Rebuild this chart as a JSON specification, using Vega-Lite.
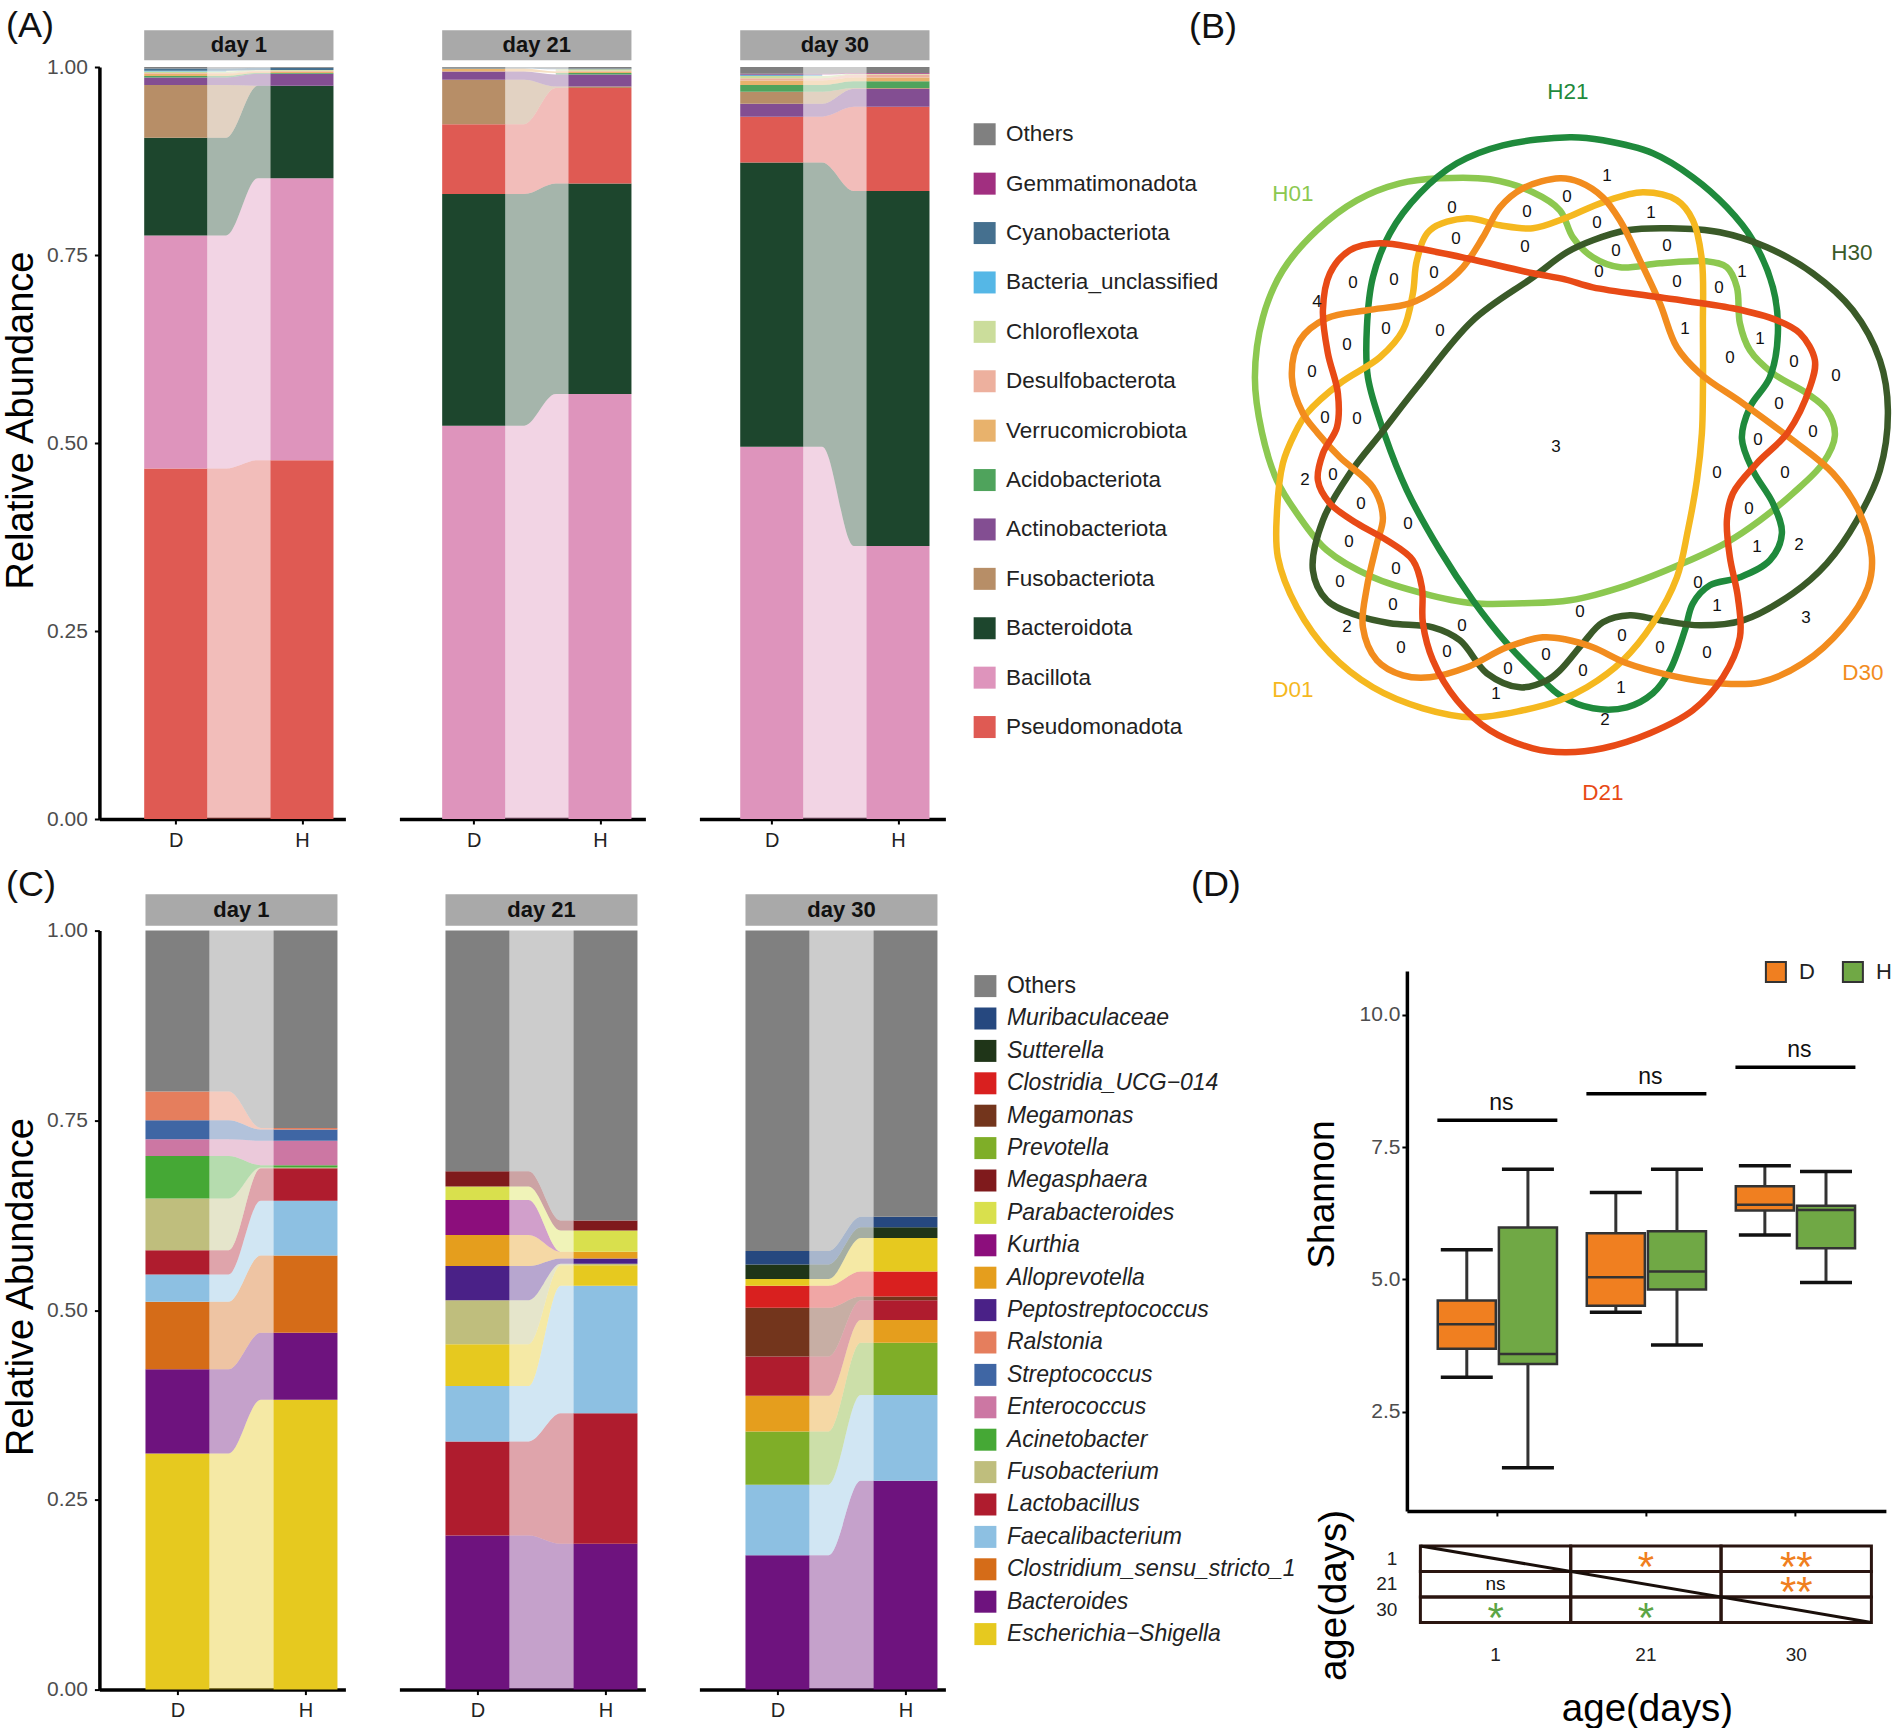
{"$schema":"https://vega.github.io/schema/vega-lite/v6.json","background":"white","padding":{"left":2.4,"top":8,"right":0,"bottom":0},"config":{"font":"Liberation Sans","view":{"stroke":null},"axis":{"grid":false,"labelFont":"Liberation Sans","titleFont":"Liberation Sans","domainColor":"#000000","domainWidth":3.5,"tickColor":"#000000","tickWidth":2,"tickSize":5,"titleFontWeight":"normal","titleColor":"#000000"},"legend":{"labelFont":"Liberation Sans"}},
"datasets":{
"xpos":[{"group":"D","x0":0,"x1":1,"flow":[1,1.3]},{"group":"H","x0":2,"x1":3,"flow":[1.8,2]}],
"phylum":[
{"day":"day 1","group":"D","taxon":"Pseudomonadota","value":0.466},{"day":"day 1","group":"D","taxon":"Bacillota","value":0.31},{"day":"day 1","group":"D","taxon":"Bacteroidota","value":0.13},{"day":"day 1","group":"D","taxon":"Fusobacteriota","value":0.07},{"day":"day 1","group":"D","taxon":"Actinobacteriota","value":0.01},{"day":"day 1","group":"D","taxon":"Acidobacteriota","value":0.002},{"day":"day 1","group":"D","taxon":"Verrucomicrobiota","value":0.003},{"day":"day 1","group":"D","taxon":"Desulfobacterota","value":0.001},{"day":"day 1","group":"D","taxon":"Chloroflexota","value":0.002},{"day":"day 1","group":"D","taxon":"Bacteria_unclassified","value":0.001},{"day":"day 1","group":"D","taxon":"Cyanobacteriota","value":0.003},{"day":"day 1","group":"D","taxon":"Others","value":0.002},
{"day":"day 1","group":"H","taxon":"Pseudomonadota","value":0.477},{"day":"day 1","group":"H","taxon":"Bacillota","value":0.375},{"day":"day 1","group":"H","taxon":"Bacteroidota","value":0.123},{"day":"day 1","group":"H","taxon":"Fusobacteriota","value":0.0},{"day":"day 1","group":"H","taxon":"Actinobacteriota","value":0.016},{"day":"day 1","group":"H","taxon":"Acidobacteriota","value":0.001},{"day":"day 1","group":"H","taxon":"Verrucomicrobiota","value":0.002},{"day":"day 1","group":"H","taxon":"Desulfobacterota","value":0.001},{"day":"day 1","group":"H","taxon":"Chloroflexota","value":0.001},{"day":"day 1","group":"H","taxon":"Cyanobacteriota","value":0.003},{"day":"day 1","group":"H","taxon":"Others","value":0.001},
{"day":"day 21","group":"D","taxon":"Bacillota","value":0.523},{"day":"day 21","group":"D","taxon":"Bacteroidota","value":0.308},{"day":"day 21","group":"D","taxon":"Pseudomonadota","value":0.093},{"day":"day 21","group":"D","taxon":"Fusobacteriota","value":0.059},{"day":"day 21","group":"D","taxon":"Actinobacteriota","value":0.011},{"day":"day 21","group":"D","taxon":"Verrucomicrobiota","value":0.004},{"day":"day 21","group":"D","taxon":"Cyanobacteriota","value":0.001},{"day":"day 21","group":"D","taxon":"Others","value":0.001},
{"day":"day 21","group":"H","taxon":"Bacillota","value":0.565},{"day":"day 21","group":"H","taxon":"Bacteroidota","value":0.28},{"day":"day 21","group":"H","taxon":"Pseudomonadota","value":0.127},{"day":"day 21","group":"H","taxon":"Fusobacteriota","value":0.002},{"day":"day 21","group":"H","taxon":"Actinobacteriota","value":0.016},{"day":"day 21","group":"H","taxon":"Acidobacteriota","value":0.002},{"day":"day 21","group":"H","taxon":"Verrucomicrobiota","value":0.002},{"day":"day 21","group":"H","taxon":"Desulfobacterota","value":0.001},{"day":"day 21","group":"H","taxon":"Chloroflexota","value":0.002},{"day":"day 21","group":"H","taxon":"Cyanobacteriota","value":0.001},{"day":"day 21","group":"H","taxon":"Others","value":0.002},
{"day":"day 30","group":"D","taxon":"Bacillota","value":0.495},{"day":"day 30","group":"D","taxon":"Bacteroidota","value":0.378},{"day":"day 30","group":"D","taxon":"Pseudomonadota","value":0.061},{"day":"day 30","group":"D","taxon":"Actinobacteriota","value":0.017},{"day":"day 30","group":"D","taxon":"Fusobacteriota","value":0.016},{"day":"day 30","group":"D","taxon":"Acidobacteriota","value":0.009},{"day":"day 30","group":"D","taxon":"Verrucomicrobiota","value":0.006},{"day":"day 30","group":"D","taxon":"Desulfobacterota","value":0.003},{"day":"day 30","group":"D","taxon":"Chloroflexota","value":0.003},{"day":"day 30","group":"D","taxon":"Bacteria_unclassified","value":0.001},{"day":"day 30","group":"D","taxon":"Cyanobacteriota","value":0.001},{"day":"day 30","group":"D","taxon":"Gemmatimonadota","value":0.001},{"day":"day 30","group":"D","taxon":"Others","value":0.009},
{"day":"day 30","group":"H","taxon":"Bacillota","value":0.363},{"day":"day 30","group":"H","taxon":"Bacteroidota","value":0.472},{"day":"day 30","group":"H","taxon":"Pseudomonadota","value":0.112},{"day":"day 30","group":"H","taxon":"Actinobacteriota","value":0.024},{"day":"day 30","group":"H","taxon":"Fusobacteriota","value":0.001},{"day":"day 30","group":"H","taxon":"Acidobacteriota","value":0.009},{"day":"day 30","group":"H","taxon":"Verrucomicrobiota","value":0.005},{"day":"day 30","group":"H","taxon":"Desulfobacterota","value":0.004},{"day":"day 30","group":"H","taxon":"Chloroflexota","value":0.001},{"day":"day 30","group":"H","taxon":"Gemmatimonadota","value":0.001},{"day":"day 30","group":"H","taxon":"Others","value":0.008}],
"genus":[
{"day":"day 1","group":"D","taxon":"Escherichia−Shigella","value":0.311},{"day":"day 1","group":"D","taxon":"Bacteroides","value":0.111},{"day":"day 1","group":"D","taxon":"Clostridium_sensu_stricto_1","value":0.089},{"day":"day 1","group":"D","taxon":"Faecalibacterium","value":0.036},{"day":"day 1","group":"D","taxon":"Lactobacillus","value":0.032},{"day":"day 1","group":"D","taxon":"Fusobacterium","value":0.068},{"day":"day 1","group":"D","taxon":"Acinetobacter","value":0.056},{"day":"day 1","group":"D","taxon":"Enterococcus","value":0.022},{"day":"day 1","group":"D","taxon":"Streptococcus","value":0.025},{"day":"day 1","group":"D","taxon":"Ralstonia","value":0.038},{"day":"day 1","group":"D","taxon":"Others","value":0.212},
{"day":"day 1","group":"H","taxon":"Escherichia−Shigella","value":0.382},{"day":"day 1","group":"H","taxon":"Bacteroides","value":0.088},{"day":"day 1","group":"H","taxon":"Clostridium_sensu_stricto_1","value":0.102},{"day":"day 1","group":"H","taxon":"Faecalibacterium","value":0.072},{"day":"day 1","group":"H","taxon":"Lactobacillus","value":0.043},{"day":"day 1","group":"H","taxon":"Fusobacterium","value":0.001},{"day":"day 1","group":"H","taxon":"Acinetobacter","value":0.003},{"day":"day 1","group":"H","taxon":"Enterococcus","value":0.032},{"day":"day 1","group":"H","taxon":"Streptococcus","value":0.015},{"day":"day 1","group":"H","taxon":"Ralstonia","value":0.002},{"day":"day 1","group":"H","taxon":"Others","value":0.26},
{"day":"day 21","group":"D","taxon":"Bacteroides","value":0.203},{"day":"day 21","group":"D","taxon":"Lactobacillus","value":0.124},{"day":"day 21","group":"D","taxon":"Faecalibacterium","value":0.073},{"day":"day 21","group":"D","taxon":"Escherichia−Shigella","value":0.055},{"day":"day 21","group":"D","taxon":"Fusobacterium","value":0.058},{"day":"day 21","group":"D","taxon":"Peptostreptococcus","value":0.045},{"day":"day 21","group":"D","taxon":"Alloprevotella","value":0.041},{"day":"day 21","group":"D","taxon":"Kurthia","value":0.046},{"day":"day 21","group":"D","taxon":"Parabacteroides","value":0.018},{"day":"day 21","group":"D","taxon":"Megasphaera","value":0.02},{"day":"day 21","group":"D","taxon":"Others","value":0.317},
{"day":"day 21","group":"H","taxon":"Bacteroides","value":0.192},{"day":"day 21","group":"H","taxon":"Lactobacillus","value":0.172},{"day":"day 21","group":"H","taxon":"Faecalibacterium","value":0.168},{"day":"day 21","group":"H","taxon":"Escherichia−Shigella","value":0.027},{"day":"day 21","group":"H","taxon":"Fusobacterium","value":0.002},{"day":"day 21","group":"H","taxon":"Peptostreptococcus","value":0.007},{"day":"day 21","group":"H","taxon":"Alloprevotella","value":0.009},{"day":"day 21","group":"H","taxon":"Kurthia","value":0.0},{"day":"day 21","group":"H","taxon":"Parabacteroides","value":0.028},{"day":"day 21","group":"H","taxon":"Megasphaera","value":0.013},{"day":"day 21","group":"H","taxon":"Others","value":0.382},
{"day":"day 30","group":"D","taxon":"Bacteroides","value":0.177},{"day":"day 30","group":"D","taxon":"Faecalibacterium","value":0.093},{"day":"day 30","group":"D","taxon":"Prevotella","value":0.07},{"day":"day 30","group":"D","taxon":"Alloprevotella","value":0.047},{"day":"day 30","group":"D","taxon":"Lactobacillus","value":0.052},{"day":"day 30","group":"D","taxon":"Megamonas","value":0.064},{"day":"day 30","group":"D","taxon":"Clostridia_UCG−014","value":0.029},{"day":"day 30","group":"D","taxon":"Escherichia−Shigella","value":0.009},{"day":"day 30","group":"D","taxon":"Sutterella","value":0.019},{"day":"day 30","group":"D","taxon":"Muribaculaceae","value":0.018},{"day":"day 30","group":"D","taxon":"Others","value":0.422},
{"day":"day 30","group":"H","taxon":"Bacteroides","value":0.275},{"day":"day 30","group":"H","taxon":"Faecalibacterium","value":0.113},{"day":"day 30","group":"H","taxon":"Prevotella","value":0.069},{"day":"day 30","group":"H","taxon":"Alloprevotella","value":0.03},{"day":"day 30","group":"H","taxon":"Lactobacillus","value":0.026},{"day":"day 30","group":"H","taxon":"Megamonas","value":0.005},{"day":"day 30","group":"H","taxon":"Clostridia_UCG−014","value":0.033},{"day":"day 30","group":"H","taxon":"Escherichia−Shigella","value":0.044},{"day":"day 30","group":"H","taxon":"Sutterella","value":0.014},{"day":"day 30","group":"H","taxon":"Muribaculaceae","value":0.014},{"day":"day 30","group":"H","taxon":"Others","value":0.377}],
"venn":[
{"set":"H01","x":1440,"y":178},{"set":"H01","x":1490,"y":179},{"set":"H01","x":1533,"y":192},{"set":"H01","x":1560,"y":210},{"set":"H01","x":1573,"y":237},{"set":"H01","x":1593,"y":257},{"set":"H01","x":1620,"y":267},{"set":"H01","x":1660,"y":263},{"set":"H01","x":1707,"y":261},{"set":"H01","x":1727,"y":267},{"set":"H01","x":1737,"y":287},{"set":"H01","x":1740,"y":323},{"set":"H01","x":1750,"y":350},{"set":"H01","x":1773,"y":373},{"set":"H01","x":1807,"y":393},{"set":"H01","x":1827,"y":410},{"set":"H01","x":1835,"y":435},{"set":"H01","x":1823,"y":463},{"set":"H01","x":1793,"y":493},{"set":"H01","x":1760,"y":520},{"set":"H01","x":1727,"y":542},{"set":"H01","x":1683,"y":563},{"set":"H01","x":1627,"y":585},{"set":"H01","x":1570,"y":600},{"set":"H01","x":1523,"y":603},{"set":"H01","x":1473,"y":603},{"set":"H01","x":1423,"y":593},{"set":"H01","x":1373,"y":577},{"set":"H01","x":1327,"y":550},{"set":"H01","x":1297,"y":513},{"set":"H01","x":1277,"y":480},{"set":"H01","x":1262,"y":432},{"set":"H01","x":1255,"y":377},{"set":"H01","x":1263,"y":317},{"set":"H01","x":1283,"y":270},{"set":"H01","x":1317,"y":230},{"set":"H01","x":1357,"y":200},{"set":"H01","x":1400,"y":183},
{"set":"H21","x":1570,"y":137},{"set":"H21","x":1603,"y":140},{"set":"H21","x":1653,"y":153},{"set":"H21","x":1693,"y":177},{"set":"H21","x":1727,"y":207},{"set":"H21","x":1753,"y":240},{"set":"H21","x":1773,"y":287},{"set":"H21","x":1778,"y":333},{"set":"H21","x":1770,"y":377},{"set":"H21","x":1750,"y":407},{"set":"H21","x":1742,"y":438},{"set":"H21","x":1753,"y":470},{"set":"H21","x":1773,"y":503},{"set":"H21","x":1782,"y":533},{"set":"H21","x":1770,"y":560},{"set":"H21","x":1740,"y":577},{"set":"H21","x":1710,"y":585},{"set":"H21","x":1693,"y":603},{"set":"H21","x":1685,"y":630},{"set":"H21","x":1670,"y":670},{"set":"H21","x":1653,"y":693},{"set":"H21","x":1627,"y":707},{"set":"H21","x":1593,"y":708},{"set":"H21","x":1560,"y":695},{"set":"H21","x":1540,"y":677},{"set":"H21","x":1507,"y":643},{"set":"H21","x":1473,"y":600},{"set":"H21","x":1440,"y":550},{"set":"H21","x":1407,"y":490},{"set":"H21","x":1385,"y":435},{"set":"H21","x":1368,"y":377},{"set":"H21","x":1367,"y":327},{"set":"H21","x":1373,"y":277},{"set":"H21","x":1390,"y":233},{"set":"H21","x":1420,"y":193},{"set":"H21","x":1457,"y":163},{"set":"H21","x":1503,"y":145},
{"set":"H30","x":1670,"y":228},{"set":"H30","x":1720,"y":232},{"set":"H30","x":1767,"y":247},{"set":"H30","x":1813,"y":273},{"set":"H30","x":1853,"y":310},{"set":"H30","x":1880,"y":360},{"set":"H30","x":1888,"y":410},{"set":"H30","x":1880,"y":470},{"set":"H30","x":1857,"y":520},{"set":"H30","x":1827,"y":563},{"set":"H30","x":1793,"y":593},{"set":"H30","x":1743,"y":620},{"set":"H30","x":1700,"y":625},{"set":"H30","x":1660,"y":620},{"set":"H30","x":1630,"y":615},{"set":"H30","x":1603,"y":622},{"set":"H30","x":1583,"y":643},{"set":"H30","x":1560,"y":670},{"set":"H30","x":1547,"y":680},{"set":"H30","x":1520,"y":687},{"set":"H30","x":1487,"y":673},{"set":"H30","x":1460,"y":640},{"set":"H30","x":1433,"y":627},{"set":"H30","x":1390,"y":623},{"set":"H30","x":1357,"y":615},{"set":"H30","x":1327,"y":600},{"set":"H30","x":1313,"y":570},{"set":"H30","x":1323,"y":520},{"set":"H30","x":1350,"y":473},{"set":"H30","x":1382,"y":432},{"set":"H30","x":1417,"y":387},{"set":"H30","x":1473,"y":320},{"set":"H30","x":1533,"y":277},{"set":"H30","x":1567,"y":252},{"set":"H30","x":1593,"y":240},{"set":"H30","x":1627,"y":230},
{"set":"D01","x":1643,"y":192},{"set":"D01","x":1677,"y":200},{"set":"D01","x":1693,"y":220},{"set":"D01","x":1702,"y":260},{"set":"D01","x":1703,"y":327},{"set":"D01","x":1703,"y":393},{"set":"D01","x":1702,"y":433},{"set":"D01","x":1697,"y":480},{"set":"D01","x":1688,"y":530},{"set":"D01","x":1677,"y":577},{"set":"D01","x":1653,"y":623},{"set":"D01","x":1623,"y":660},{"set":"D01","x":1587,"y":687},{"set":"D01","x":1560,"y":700},{"set":"D01","x":1523,"y":710},{"set":"D01","x":1473,"y":717},{"set":"D01","x":1423,"y":708},{"set":"D01","x":1373,"y":687},{"set":"D01","x":1330,"y":653},{"set":"D01","x":1297,"y":607},{"set":"D01","x":1278,"y":557},{"set":"D01","x":1277,"y":513},{"set":"D01","x":1283,"y":463},{"set":"D01","x":1295,"y":433},{"set":"D01","x":1307,"y":413},{"set":"D01","x":1340,"y":383},{"set":"D01","x":1380,"y":357},{"set":"D01","x":1403,"y":330},{"set":"D01","x":1413,"y":293},{"set":"D01","x":1417,"y":260},{"set":"D01","x":1430,"y":230},{"set":"D01","x":1467,"y":218},{"set":"D01","x":1500,"y":225},{"set":"D01","x":1533,"y":228},{"set":"D01","x":1565,"y":218},{"set":"D01","x":1603,"y":202},
{"set":"D30","x":1560,"y":178},{"set":"D30","x":1523,"y":188},{"set":"D30","x":1500,"y":207},{"set":"D30","x":1483,"y":237},{"set":"D30","x":1463,"y":267},{"set":"D30","x":1440,"y":287},{"set":"D30","x":1410,"y":303},{"set":"D30","x":1367,"y":310},{"set":"D30","x":1327,"y":318},{"set":"D30","x":1300,"y":340},{"set":"D30","x":1292,"y":377},{"set":"D30","x":1303,"y":413},{"set":"D30","x":1318,"y":433},{"set":"D30","x":1340,"y":457},{"set":"D30","x":1373,"y":487},{"set":"D30","x":1383,"y":517},{"set":"D30","x":1377,"y":543},{"set":"D30","x":1367,"y":587},{"set":"D30","x":1363,"y":627},{"set":"D30","x":1377,"y":660},{"set":"D30","x":1403,"y":675},{"set":"D30","x":1430,"y":677},{"set":"D30","x":1467,"y":667},{"set":"D30","x":1507,"y":647},{"set":"D30","x":1543,"y":637},{"set":"D30","x":1565,"y":639},{"set":"D30","x":1593,"y":647},{"set":"D30","x":1627,"y":663},{"set":"D30","x":1670,"y":675},{"set":"D30","x":1720,"y":683},{"set":"D30","x":1760,"y":682},{"set":"D30","x":1803,"y":663},{"set":"D30","x":1843,"y":627},{"set":"D30","x":1868,"y":587},{"set":"D30","x":1872,"y":557},{"set":"D30","x":1860,"y":513},{"set":"D30","x":1833,"y":473},{"set":"D30","x":1793,"y":440},{"set":"D30","x":1743,"y":403},{"set":"D30","x":1700,"y":373},{"set":"D30","x":1677,"y":347},{"set":"D30","x":1660,"y":303},{"set":"D30","x":1640,"y":260},{"set":"D30","x":1620,"y":220},{"set":"D30","x":1603,"y":197},{"set":"D30","x":1580,"y":182},
{"set":"D21","x":1565,"y":279},{"set":"D21","x":1533,"y":273},{"set":"D21","x":1467,"y":258},{"set":"D21","x":1417,"y":248},{"set":"D21","x":1380,"y":243},{"set":"D21","x":1350,"y":250},{"set":"D21","x":1330,"y":273},{"set":"D21","x":1323,"y":310},{"set":"D21","x":1328,"y":353},{"set":"D21","x":1338,"y":393},{"set":"D21","x":1337,"y":427},{"set":"D21","x":1323,"y":453},{"set":"D21","x":1318,"y":480},{"set":"D21","x":1330,"y":503},{"set":"D21","x":1357,"y":523},{"set":"D21","x":1387,"y":540},{"set":"D21","x":1413,"y":560},{"set":"D21","x":1422,"y":587},{"set":"D21","x":1423,"y":623},{"set":"D21","x":1433,"y":660},{"set":"D21","x":1457,"y":700},{"set":"D21","x":1490,"y":730},{"set":"D21","x":1533,"y":748},{"set":"D21","x":1565,"y":752},{"set":"D21","x":1603,"y":748},{"set":"D21","x":1650,"y":733},{"set":"D21","x":1693,"y":710},{"set":"D21","x":1723,"y":677},{"set":"D21","x":1740,"y":637},{"set":"D21","x":1738,"y":597},{"set":"D21","x":1730,"y":557},{"set":"D21","x":1727,"y":520},{"set":"D21","x":1733,"y":493},{"set":"D21","x":1757,"y":463},{"set":"D21","x":1788,"y":432},{"set":"D21","x":1810,"y":387},{"set":"D21","x":1815,"y":360},{"set":"D21","x":1800,"y":333},{"set":"D21","x":1777,"y":320},{"set":"D21","x":1733,"y":308},{"set":"D21","x":1660,"y":297},{"set":"D21","x":1593,"y":287}],
"venncounts":[{"n":"0","x":1452,"y":208},{"n":"0","x":1527,"y":212},{"n":"0","x":1456,"y":239},{"n":"0","x":1525,"y":247},{"n":"0","x":1434,"y":273},{"n":"0","x":1394,"y":280},{"n":"0","x":1353,"y":283},{"n":"4","x":1317,"y":302},{"n":"0","x":1386,"y":329},{"n":"0","x":1440,"y":331},{"n":"0","x":1347,"y":345},{"n":"0","x":1312,"y":372},{"n":"0","x":1325,"y":418},{"n":"0","x":1357,"y":419},{"n":"0","x":1567,"y":197},{"n":"1","x":1607,"y":176},{"n":"0","x":1597,"y":223},{"n":"1","x":1651,"y":213},{"n":"0","x":1667,"y":246},{"n":"0","x":1616,"y":251},{"n":"0","x":1599,"y":272},{"n":"0","x":1677,"y":282},{"n":"0","x":1719,"y":288},{"n":"1","x":1742,"y":272},{"n":"1","x":1685,"y":329},{"n":"1","x":1760,"y":339},{"n":"0","x":1730,"y":358},{"n":"0","x":1794,"y":362},{"n":"0","x":1836,"y":376},{"n":"0","x":1779,"y":404},{"n":"0","x":1813,"y":432},{"n":"0","x":1758,"y":440},{"n":"0","x":1717,"y":473},{"n":"0","x":1785,"y":473},{"n":"0","x":1749,"y":509},{"n":"1","x":1757,"y":547},{"n":"2","x":1799,"y":545},{"n":"0","x":1698,"y":583},{"n":"1","x":1717,"y":606},{"n":"3","x":1806,"y":618},{"n":"0","x":1580,"y":612},{"n":"0","x":1622,"y":636},{"n":"0","x":1660,"y":648},{"n":"0","x":1707,"y":653},{"n":"0","x":1583,"y":671},{"n":"1","x":1621,"y":688},{"n":"2","x":1605,"y":720},{"n":"3","x":1556,"y":447},{"n":"2","x":1305,"y":480},{"n":"0","x":1333,"y":475},{"n":"0","x":1361,"y":504},{"n":"0","x":1408,"y":524},{"n":"0","x":1349,"y":542},{"n":"0","x":1396,"y":569},{"n":"0","x":1340,"y":582},{"n":"0","x":1393,"y":605},{"n":"0","x":1462,"y":626},{"n":"2","x":1347,"y":627},{"n":"0","x":1401,"y":648},{"n":"0","x":1447,"y":652},{"n":"0","x":1546,"y":655},{"n":"0","x":1508,"y":669},{"n":"1","x":1496,"y":694}],
"vennnames":[{"set":"H21","x":1568,"y":92},{"set":"H01","x":1293,"y":194},{"set":"H30","x":1852,"y":253},{"set":"D01","x":1293,"y":690},{"set":"D30","x":1863,"y":673},{"set":"D21","x":1603,"y":793}],
"tags":[{"tag":"(B)","x":1189,"y":27},{"tag":"(D)","x":1191,"y":885}],
"shannon":[{"age":"1","group":"D","low":3.15,"q1":3.69,"med":4.15,"q3":4.6,"high":5.56},{"age":"1","group":"H","low":1.44,"q1":3.4,"med":3.59,"q3":5.98,"high":7.08},{"age":"21","group":"D","low":4.38,"q1":4.5,"med":5.04,"q3":5.87,"high":6.64},{"age":"21","group":"H","low":3.76,"q1":4.81,"med":5.15,"q3":5.91,"high":7.08},{"age":"30","group":"D","low":5.84,"q1":6.3,"med":6.41,"q3":6.76,"high":7.15},{"age":"30","group":"H","low":4.94,"q1":5.59,"med":6.31,"q3":6.39,"high":7.04}],
"sig":[{"age":"1","level":8.01,"label":"ns"},{"age":"21","level":8.51,"label":"ns"},{"age":"30","level":9.01,"label":"ns"}],
"pairs":[{"col":"1","row":"1"},{"col":"21","row":"1","label":"*","kind":"D"},{"col":"30","row":"1","label":"**","kind":"D"},{"col":"1","row":"21","label":"ns","kind":"ns"},{"col":"21","row":"21"},{"col":"30","row":"21","label":"**","kind":"D"},{"col":"1","row":"30","label":"*","kind":"H"},{"col":"21","row":"30","label":"*","kind":"H"},{"col":"30","row":"30"}],
"diag":[{"u":0,"v":1},{"u":1,"v":0}]
},
"spacing":-107.5,"resolve":{"scale":{"color":"independent"}},
"hconcat":[
{"columns":3,"bounds":"flush","spacing":{"row":111.6,"column":54},"resolve":{"scale":{"color":"independent"}},"concat":[
{"width":246,"height":752,"data":{"name":"phylum"},"transform":[{"filter":"datum.day=='day 1'"},{"stack":"value","groupby":["group"],"as":["y0","y1"]},{"lookup":"group","from":{"data":{"name":"xpos"},"key":"group","fields":["x0","x1","flow"]}}],
"layer":[
{"transform":[{"flatten":["flow"]}],"mark":{"type":"area","interpolate":"monotone","opacity":0.4,"orient":"vertical"},"encoding":{"x":{"field":"flow","type":"quantitative","axis":{"values":[0.5,2.5],"labelExpr":"datum.value<1?'D':'H'","title":null,"labelFontSize":20,"labelColor":"#222222","labelAngle":0,"labelPadding":6},"scale":{"domain":[-0.71,3.189],"nice":false,"zero":false}},"y":{"field":"y0","type":"quantitative","axis":{"values":[0,0.25,0.5,0.75,1],"format":".2f","title":"Relative Abundance","titleFontSize":38,"titlePadding":6,"titleY":353,"labelFontSize":21,"labelPadding":7,"labelColor":"#4d4d4d"},"scale":{"domain":[0,1],"nice":false}},"y2":{"field":"y1"},"color":{"field":"taxon","type":"nominal","legend":null,"scale":{"domain":["Others","Gemmatimonadota","Cyanobacteriota","Bacteria_unclassified","Chloroflexota","Desulfobacterota","Verrucomicrobiota","Acidobacteriota","Actinobacteriota","Fusobacteriota","Bacteroidota","Bacillota","Pseudomonadota"],"range":["#808080","#A12F80","#45708F","#55B7E6","#CBDD9B","#EDB09E","#E8B26C","#4FA35C","#834E92","#B78E67","#1D462D","#DE94BC","#DF5A53"]}}}},
{"mark":"rect","encoding":{"x":{"field":"x0","type":"quantitative"},"x2":{"field":"x1"},"y":{"field":"y0","type":"quantitative"},"y2":{"field":"y1"},"color":{"field":"taxon","type":"nominal","legend":null}}},
{"data":{"values":[{"label":"day 1"}]},"mark":{"type":"rect","color":"#A9A9A9"},"encoding":{"x":{"datum":0,"type":"quantitative"},"x2":{"datum":3},"y":{"datum":1.009,"type":"quantitative"},"y2":{"datum":1.049}}},
{"data":{"values":[{"label":"day 1"}]},"mark":{"type":"text","fontSize":22,"fontWeight":"bold","color":"#111111"},"encoding":{"x":{"datum":1.5,"type":"quantitative"},"y":{"datum":1.029,"type":"quantitative"},"text":{"field":"label"}}},
{"data":{"values":[{"label":"(A)"}]},"mark":{"type":"text","fontSize":36,"align":"left","color":"#111111"},"encoding":{"x":{"datum":-2.19,"type":"quantitative"},"y":{"datum":1.054,"type":"quantitative"},"text":{"field":"label"}}}
]},
{"width":246,"height":752,"data":{"name":"phylum"},"transform":[{"filter":"datum.day=='day 21'"},{"stack":"value","groupby":["group"],"as":["y0","y1"]},{"lookup":"group","from":{"data":{"name":"xpos"},"key":"group","fields":["x0","x1","flow"]}}],
"layer":[
{"transform":[{"flatten":["flow"]}],"mark":{"type":"area","interpolate":"monotone","opacity":0.4,"orient":"vertical"},"encoding":{"x":{"field":"flow","type":"quantitative","axis":{"values":[0.5,2.5],"labelExpr":"datum.value<1?'D':'H'","title":null,"labelFontSize":20,"labelColor":"#222222","labelAngle":0,"labelPadding":6},"scale":{"domain":[-0.678,3.221],"nice":false,"zero":false}},"y":{"field":"y0","type":"quantitative","axis":null,"scale":{"domain":[0,1],"nice":false}},"y2":{"field":"y1"},"color":{"field":"taxon","type":"nominal","legend":null,"scale":{"domain":["Others","Gemmatimonadota","Cyanobacteriota","Bacteria_unclassified","Chloroflexota","Desulfobacterota","Verrucomicrobiota","Acidobacteriota","Actinobacteriota","Fusobacteriota","Bacteroidota","Bacillota","Pseudomonadota"],"range":["#808080","#A12F80","#45708F","#55B7E6","#CBDD9B","#EDB09E","#E8B26C","#4FA35C","#834E92","#B78E67","#1D462D","#DE94BC","#DF5A53"]}}}},
{"mark":"rect","encoding":{"x":{"field":"x0","type":"quantitative"},"x2":{"field":"x1"},"y":{"field":"y0","type":"quantitative","axis":null},"y2":{"field":"y1"},"color":{"field":"taxon","type":"nominal","legend":null}}},
{"data":{"values":[{"label":"day 21"}]},"mark":{"type":"rect","color":"#A9A9A9"},"encoding":{"x":{"datum":0,"type":"quantitative"},"x2":{"datum":3},"y":{"datum":1.009,"type":"quantitative","axis":null},"y2":{"datum":1.049}}},
{"data":{"values":[{"label":"day 21"}]},"mark":{"type":"text","fontSize":22,"fontWeight":"bold","color":"#111111"},"encoding":{"x":{"datum":1.5,"type":"quantitative"},"y":{"datum":1.029,"type":"quantitative","axis":null},"text":{"field":"label"}}}
]},
{"width":246,"height":752,"data":{"name":"phylum"},"transform":[{"filter":"datum.day=='day 30'"},{"stack":"value","groupby":["group"],"as":["y0","y1"]},{"lookup":"group","from":{"data":{"name":"xpos"},"key":"group","fields":["x0","x1","flow"]}}],
"layer":[
{"transform":[{"flatten":["flow"]}],"mark":{"type":"area","interpolate":"monotone","opacity":0.4,"orient":"vertical"},"encoding":{"x":{"field":"flow","type":"quantitative","axis":{"values":[0.5,2.5],"labelExpr":"datum.value<1?'D':'H'","title":null,"labelFontSize":20,"labelColor":"#222222","labelAngle":0,"labelPadding":6},"scale":{"domain":[-0.647,3.252],"nice":false,"zero":false}},"y":{"field":"y0","type":"quantitative","axis":null,"scale":{"domain":[0,1],"nice":false}},"y2":{"field":"y1"},"color":{"field":"taxon","type":"nominal","scale":{"domain":["Others","Gemmatimonadota","Cyanobacteriota","Bacteria_unclassified","Chloroflexota","Desulfobacterota","Verrucomicrobiota","Acidobacteriota","Actinobacteriota","Fusobacteriota","Bacteroidota","Bacillota","Pseudomonadota"],"range":["#808080","#A12F80","#45708F","#55B7E6","#CBDD9B","#EDB09E","#E8B26C","#4FA35C","#834E92","#B78E67","#1D462D","#DE94BC","#DF5A53"]},"legend":{"orient":"none","legendX":274,"legendY":56,"title":null,"symbolType":"square","symbolSize":484,"symbolStrokeWidth":0,"symbolOpacity":1,"labelFontSize":22.5,"labelOffset":10,"rowPadding":26.4,"labelLimit":400,"labelColor":"#222222"}}}},
{"mark":"rect","encoding":{"x":{"field":"x0","type":"quantitative"},"x2":{"field":"x1"},"y":{"field":"y0","type":"quantitative","axis":null},"y2":{"field":"y1"},"color":{"field":"taxon","type":"nominal"}}},
{"data":{"values":[{"label":"day 30"}]},"mark":{"type":"rect","color":"#A9A9A9"},"encoding":{"x":{"datum":0,"type":"quantitative"},"x2":{"datum":3},"y":{"datum":1.009,"type":"quantitative","axis":null},"y2":{"datum":1.049}}},
{"data":{"values":[{"label":"day 30"}]},"mark":{"type":"text","fontSize":22,"fontWeight":"bold","color":"#111111"},"encoding":{"x":{"datum":1.5,"type":"quantitative"},"y":{"datum":1.029,"type":"quantitative","axis":null},"text":{"field":"label"}}}
]},
{"width":246,"height":759,"data":{"name":"genus"},"transform":[{"filter":"datum.day=='day 1'"},{"stack":"value","groupby":["group"],"as":["y0","y1"]},{"lookup":"group","from":{"data":{"name":"xpos"},"key":"group","fields":["x0","x1","flow"]}}],
"layer":[
{"transform":[{"flatten":["flow"]}],"mark":{"type":"area","interpolate":"monotone","opacity":0.4,"orient":"vertical"},"encoding":{"x":{"field":"flow","type":"quantitative","axis":{"values":[0.5,2.5],"labelExpr":"datum.value<1?'D':'H'","title":null,"labelFontSize":20,"labelColor":"#222222","labelAngle":0,"labelPadding":6},"scale":{"domain":[-0.72,3.124],"nice":false,"zero":false}},"y":{"field":"y0","type":"quantitative","axis":{"values":[0,0.25,0.5,0.75,1],"format":".2f","title":"Relative Abundance","titleFontSize":38,"titlePadding":6,"titleY":356,"labelFontSize":21,"labelPadding":7,"labelColor":"#4d4d4d"},"scale":{"domain":[0,1],"nice":false}},"y2":{"field":"y1"},"color":{"field":"taxon","type":"nominal","legend":null,"scale":{"domain":["Others","Muribaculaceae","Sutterella","Clostridia_UCG−014","Megamonas","Prevotella","Megasphaera","Parabacteroides","Kurthia","Alloprevotella","Peptostreptococcus","Ralstonia","Streptococcus","Enterococcus","Acinetobacter","Fusobacterium","Lactobacillus","Faecalibacterium","Clostridium_sensu_stricto_1","Bacteroides","Escherichia−Shigella"],"range":["#808080","#26487F","#1F3518","#D9201F","#73351C","#7FAE28","#7F1A1C","#D9E04D","#8C0E7C","#E59E1D","#4A2187","#E57E5D","#3F66A4","#CC77A3","#45A835","#BFBE7D","#AF1C2E","#8DC0E2","#D56C18","#6E137E","#E6C91F"]}}}},
{"mark":"rect","encoding":{"x":{"field":"x0","type":"quantitative"},"x2":{"field":"x1"},"y":{"field":"y0","type":"quantitative"},"y2":{"field":"y1"},"color":{"field":"taxon","type":"nominal","legend":null}}},
{"data":{"values":[{"label":"day 1"}]},"mark":{"type":"rect","color":"#A9A9A9"},"encoding":{"x":{"datum":0,"type":"quantitative"},"x2":{"datum":3},"y":{"datum":1.0065,"type":"quantitative"},"y2":{"datum":1.048}}},
{"data":{"values":[{"label":"day 1"}]},"mark":{"type":"text","fontSize":22,"fontWeight":"bold","color":"#111111"},"encoding":{"x":{"datum":1.5,"type":"quantitative"},"y":{"datum":1.027,"type":"quantitative"},"text":{"field":"label"}}},
{"data":{"values":[{"label":"(C)"}]},"mark":{"type":"text","fontSize":36,"align":"left","color":"#111111"},"encoding":{"x":{"datum":-2.18,"type":"quantitative"},"y":{"datum":1.06,"type":"quantitative"},"text":{"field":"label"}}}
]},
{"width":246,"height":759,"data":{"name":"genus"},"transform":[{"filter":"datum.day=='day 21'"},{"stack":"value","groupby":["group"],"as":["y0","y1"]},{"lookup":"group","from":{"data":{"name":"xpos"},"key":"group","fields":["x0","x1","flow"]}}],
"layer":[
{"transform":[{"flatten":["flow"]}],"mark":{"type":"area","interpolate":"monotone","opacity":0.4,"orient":"vertical"},"encoding":{"x":{"field":"flow","type":"quantitative","axis":{"values":[0.5,2.5],"labelExpr":"datum.value<1?'D':'H'","title":null,"labelFontSize":20,"labelColor":"#222222","labelAngle":0,"labelPadding":6},"scale":{"domain":[-0.72,3.124],"nice":false,"zero":false}},"y":{"field":"y0","type":"quantitative","axis":null,"scale":{"domain":[0,1],"nice":false}},"y2":{"field":"y1"},"color":{"field":"taxon","type":"nominal","legend":null,"scale":{"domain":["Others","Muribaculaceae","Sutterella","Clostridia_UCG−014","Megamonas","Prevotella","Megasphaera","Parabacteroides","Kurthia","Alloprevotella","Peptostreptococcus","Ralstonia","Streptococcus","Enterococcus","Acinetobacter","Fusobacterium","Lactobacillus","Faecalibacterium","Clostridium_sensu_stricto_1","Bacteroides","Escherichia−Shigella"],"range":["#808080","#26487F","#1F3518","#D9201F","#73351C","#7FAE28","#7F1A1C","#D9E04D","#8C0E7C","#E59E1D","#4A2187","#E57E5D","#3F66A4","#CC77A3","#45A835","#BFBE7D","#AF1C2E","#8DC0E2","#D56C18","#6E137E","#E6C91F"]}}}},
{"mark":"rect","encoding":{"x":{"field":"x0","type":"quantitative"},"x2":{"field":"x1"},"y":{"field":"y0","type":"quantitative","axis":null},"y2":{"field":"y1"},"color":{"field":"taxon","type":"nominal","legend":null}}},
{"data":{"values":[{"label":"day 21"}]},"mark":{"type":"rect","color":"#A9A9A9"},"encoding":{"x":{"datum":0,"type":"quantitative"},"x2":{"datum":3},"y":{"datum":1.0065,"type":"quantitative","axis":null},"y2":{"datum":1.048}}},
{"data":{"values":[{"label":"day 21"}]},"mark":{"type":"text","fontSize":22,"fontWeight":"bold","color":"#111111"},"encoding":{"x":{"datum":1.5,"type":"quantitative"},"y":{"datum":1.027,"type":"quantitative","axis":null},"text":{"field":"label"}}}
]},
{"width":246,"height":759,"data":{"name":"genus"},"transform":[{"filter":"datum.day=='day 30'"},{"stack":"value","groupby":["group"],"as":["y0","y1"]},{"lookup":"group","from":{"data":{"name":"xpos"},"key":"group","fields":["x0","x1","flow"]}}],
"layer":[
{"transform":[{"flatten":["flow"]}],"mark":{"type":"area","interpolate":"monotone","opacity":0.4,"orient":"vertical"},"encoding":{"x":{"field":"flow","type":"quantitative","axis":{"values":[0.5,2.5],"labelExpr":"datum.value<1?'D':'H'","title":null,"labelFontSize":20,"labelColor":"#222222","labelAngle":0,"labelPadding":6},"scale":{"domain":[-0.72,3.124],"nice":false,"zero":false}},"y":{"field":"y0","type":"quantitative","axis":null,"scale":{"domain":[0,1],"nice":false}},"y2":{"field":"y1"},"color":{"field":"taxon","type":"nominal","scale":{"domain":["Others","Muribaculaceae","Sutterella","Clostridia_UCG−014","Megamonas","Prevotella","Megasphaera","Parabacteroides","Kurthia","Alloprevotella","Peptostreptococcus","Ralstonia","Streptococcus","Enterococcus","Acinetobacter","Fusobacterium","Lactobacillus","Faecalibacterium","Clostridium_sensu_stricto_1","Bacteroides","Escherichia−Shigella"],"range":["#808080","#26487F","#1F3518","#D9201F","#73351C","#7FAE28","#7F1A1C","#D9E04D","#8C0E7C","#E59E1D","#4A2187","#E57E5D","#3F66A4","#CC77A3","#45A835","#BFBE7D","#AF1C2E","#8DC0E2","#D56C18","#6E137E","#E6C91F"]},"legend":{"orient":"none","legendX":274.5,"legendY":44,"title":null,"symbolType":"square","symbolSize":484,"symbolStrokeWidth":0,"symbolOpacity":1,"labelFontSize":23,"labelOffset":10,"rowPadding":8.4,"labelLimit":400,"labelColor":"#222222","encode":{"labels":{"update":{"fontStyle":{"signal":"datum.value=='Others'?'normal':'italic'"}}}}}}}},
{"mark":"rect","encoding":{"x":{"field":"x0","type":"quantitative"},"x2":{"field":"x1"},"y":{"field":"y0","type":"quantitative","axis":null},"y2":{"field":"y1"},"color":{"field":"taxon","type":"nominal"}}},
{"data":{"values":[{"label":"day 30"}]},"mark":{"type":"rect","color":"#A9A9A9"},"encoding":{"x":{"datum":0,"type":"quantitative"},"x2":{"datum":3},"y":{"datum":1.0065,"type":"quantitative","axis":null},"y2":{"datum":1.048}}},
{"data":{"values":[{"label":"day 30"}]},"mark":{"type":"text","fontSize":22,"fontWeight":"bold","color":"#111111"},"encoding":{"x":{"datum":1.5,"type":"quantitative"},"y":{"datum":1.027,"type":"quantitative","axis":null},"text":{"field":"label"}}}
]}
]},
{"bounds":"flush","spacing":35,"resolve":{"scale":{"color":"independent"}},"vconcat":[
{"width":495,"height":868.3,"layer":[
{"data":{"name":"venn"},"mark":{"type":"line","interpolate":"catmull-rom-closed","strokeWidth":6.5},"encoding":{"order":{"value":null},"x":{"field":"x","type":"quantitative","axis":null,"scale":{"domain":[1407,1902],"nice":false,"zero":false}},"y":{"field":"y","type":"quantitative","axis":null,"scale":{"domain":[935,66.7],"nice":false,"zero":false}},"color":{"field":"set","type":"nominal","legend":null,"scale":{"domain":["H01","H21","H30","D01","D30","D21"],"range":["#8CC850","#1F8A3C","#3A5A28","#F5B81F","#F28C1E","#E84A16"]}}}},
{"data":{"name":"venncounts"},"mark":{"type":"text","fontSize":17,"color":"#111111"},"encoding":{"x":{"field":"x","type":"quantitative","axis":null},"y":{"field":"y","type":"quantitative","axis":null},"text":{"field":"n"}}},
{"data":{"name":"vennnames"},"mark":{"type":"text","fontSize":22.5},"encoding":{"x":{"field":"x","type":"quantitative","axis":null},"y":{"field":"y","type":"quantitative","axis":null},"text":{"field":"set"},"color":{"field":"set","type":"nominal","legend":null}}},
{"data":{"name":"tags"},"mark":{"type":"text","fontSize":36,"align":"left","color":"#111111"},"encoding":{"x":{"field":"x","type":"quantitative","axis":null},"y":{"field":"y","type":"quantitative","axis":null},"text":{"field":"tag"}}}
]},
{"width":479,"height":540,"layer":[
{"data":{"name":"shannon"},"mark":{"type":"rule","color":"#333333","strokeWidth":3},"encoding":{"x":{"field":"age","type":"nominal","scale":{"domain":["1","21","30"],"paddingInner":0.2,"paddingOuter":0.207},"axis":{"labels":false,"title":null,"tickSize":5}},"xOffset":{"field":"group","type":"nominal","scale":{"domain":["D","H"],"paddingInner":0.05,"paddingOuter":0}},"y":{"field":"low","type":"quantitative","scale":{"domain":[0.62,10.83],"nice":false,"zero":false},"axis":{"values":[2.5,5,7.5,10],"format":".1f","title":"Shannon","titleFontSize":37,"titlePadding":18,"titleY":223,"labelFontSize":21,"labelColor":"#4d4d4d"}},"y2":{"field":"high"}}},
{"data":{"name":"shannon"},"mark":{"type":"bar","stroke":"#333333","strokeWidth":2.5},"encoding":{"x":{"field":"age","type":"nominal"},"xOffset":{"field":"group","type":"nominal"},"y":{"field":"q1","type":"quantitative"},"y2":{"field":"q3"},"color":{"field":"group","type":"nominal","scale":{"domain":["D","H"],"range":["#F07F20","#70A845"]},"legend":{"orient":"none","direction":"horizontal","legendX":358,"legendY":-10,"title":null,"symbolType":"square","symbolSize":400,"symbolStrokeColor":"#333333","symbolStrokeWidth":2,"labelFontSize":22,"labelOffset":12,"columnPadding":24,"labelColor":"#222222"}}}},
{"data":{"name":"shannon"},"mark":{"type":"tick","color":"#333333","thickness":2.5,"size":56,"opacity":1},"encoding":{"x":{"field":"age","type":"nominal"},"xOffset":{"field":"group","type":"nominal"},"y":{"field":"med","type":"quantitative"}}},
{"data":{"name":"shannon"},"mark":{"type":"tick","color":"#111111","thickness":3.5,"size":52,"opacity":1},"encoding":{"x":{"field":"age","type":"nominal"},"xOffset":{"field":"group","type":"nominal"},"y":{"field":"low","type":"quantitative"}}},
{"data":{"name":"shannon"},"mark":{"type":"tick","color":"#111111","thickness":3.5,"size":52,"opacity":1},"encoding":{"x":{"field":"age","type":"nominal"},"xOffset":{"field":"group","type":"nominal"},"y":{"field":"high","type":"quantitative"}}},
{"data":{"name":"sig"},"mark":{"type":"tick","color":"#000000","thickness":3.5,"size":120,"opacity":1},"encoding":{"x":{"field":"age","type":"nominal"},"y":{"field":"level","type":"quantitative"}}},
{"data":{"name":"sig"},"mark":{"type":"text","fontSize":23,"dy":-17,"dx":4,"color":"#111111"},"encoding":{"x":{"field":"age","type":"nominal"},"y":{"field":"level","type":"quantitative"},"text":{"field":"label"}}}
]},
{"width":464.5,"height":76.4,"resolve":{"scale":{"x":"independent","y":"independent"}},"layer":[
{"data":{"name":"pairs"},"layer":[
{"mark":{"type":"rect","fillOpacity":0,"fill":"white","stroke":"#2A1510","strokeWidth":3},"encoding":{"x":{"field":"col","type":"nominal","scale":{"domain":["1","21","30"],"paddingInner":0,"paddingOuter":0.0449,"align":1},"axis":{"title":"age(days)","titleFontSize":38.5,"titlePadding":26,"titleX":240,"labelFontSize":19,"labelAngle":0,"labelPadding":23,"ticks":false,"domain":false,"labelColor":"#222222"}},"y":{"field":"row","type":"nominal","scale":{"domain":["1","21","30"],"padding":0},"axis":{"title":"age(days)","titleFontSize":38.5,"titlePadding":22,"titleY":49,"labelFontSize":19,"labelPadding":10,"ticks":false,"domain":false,"labelColor":"#222222"}}}},
{"transform":[{"filter":"datum.kind=='ns'"}],"mark":{"type":"text","fontSize":19,"color":"#111111"},"encoding":{"x":{"field":"col","type":"nominal"},"y":{"field":"row","type":"nominal"},"text":{"field":"label"}}},
{"transform":[{"filter":"datum.kind=='D'||datum.kind=='H'"}],"mark":{"type":"text","fontSize":42,"dy":9},"encoding":{"x":{"field":"col","type":"nominal"},"y":{"field":"row","type":"nominal"},"text":{"field":"label"},"color":{"field":"kind","type":"nominal","legend":null,"scale":{"domain":["D","H"],"range":["#F07F20","#5DA545"]}}}}
]},
{"data":{"name":"diag"},"mark":{"type":"line","color":"#1A0F0A","strokeWidth":3},"encoding":{"x":{"field":"u","type":"quantitative","axis":null,"scale":{"domain":[-0.0299,1],"nice":false}},"y":{"field":"v","type":"quantitative","axis":null,"scale":{"domain":[0,1],"nice":false}}}}
]}
]}
]}
